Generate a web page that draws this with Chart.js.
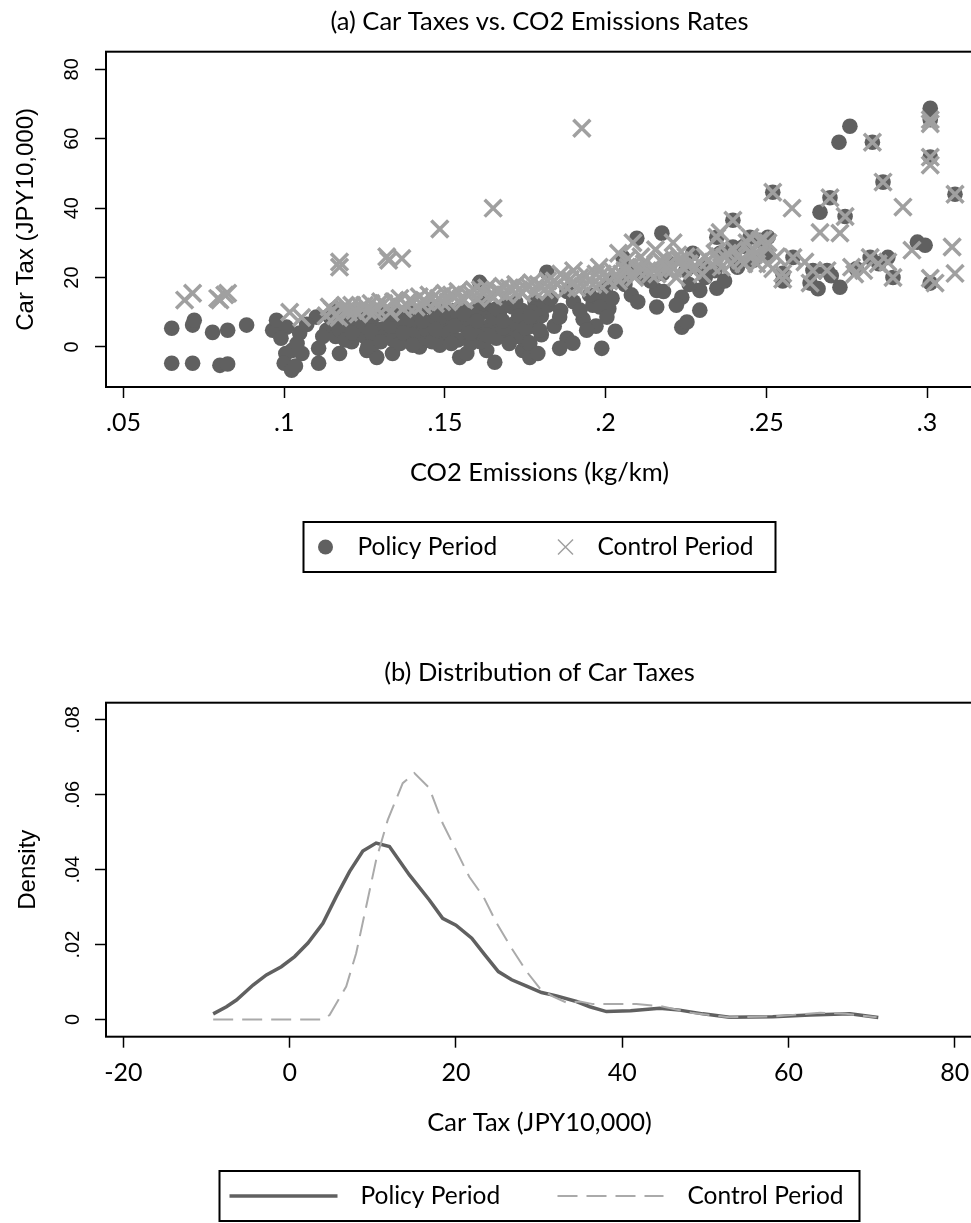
<!DOCTYPE html>
<html>
<head>
<meta charset="utf-8">
<script src="https://cdn.jsdelivr.net/npm/chart.js@4.4.1/dist/chart.umd.min.js"></script>
<style>
  html, body { margin: 0; padding: 0; background: #fff; overflow: hidden; width: 971px; height: 1223px; }
  canvas { position: absolute; left: 0; }
  #scatterChart { top: 0; }
  #densityChart { top: 610px; }
</style>
</head>
<body>
<canvas id="scatterChart" width="975" height="610"></canvas>
<canvas id="densityChart" width="975" height="613"></canvas>
<script>
// ---- panel (a): car tax vs CO2 emissions, [kg/km, JPY10,000] ----
const policyPoints = [
  [.065,5.4],[.0715,6.3],[.072,7.7],[.0777,4.2],[.0824,4.8],[.0883,6.3],[.065,-4.7],[.0715,-4.7],[.080,-5.3],[.0824,-4.9],
  [.0964,4.8],[.0976,7.7],[.1007,5.7],[.1048,4],[.110,8.6],[.1132,4.8],[.1005,-1.9],[.1024,-1],[.1055,-1.9],[.1107,-0.4],
  [.100,-4.7],[.1023,-6.7],[.1107,-4.7],[.099,2.5],[.104,1],[.107,6.5],[.112,3],[.1035,-5.5],
  [.1172,-1.9],[.1257,-1],[.1288,-3],[.1337,-1.9],[.1421,0],[.1484,0.5],[.1546,-3],[.1568,-1.9],[.163,-1],[.1655,-4.4],
  [.1742,-1],[.1764,-3],[.1462,4],[.1365,4],[.16,4.8],[.1608,18.6],
  [.116,3],[.118,6],[.12,8],[.121,1.5],[.123,5],[.125,3],[.127,7],[.128,1],[.13,5],[.132,8.5],[.134,2],[.135,6],[.137,9],
  [.139,3],[.14,6.5],[.142,9.5],[.143,2.5],[.145,7],[.147,10],[.149,3],[.15,6],[.152,8.5],[.154,2],[.155,11],[.157,5],
  [.159,8],[.161,1.5],[.162,10],[.164,6],[.166,2.5],[.167,9],[.169,12],[.17,4],[.172,7],[.174,10.5],[.175,2],[.177,6],
  [.178,13],[.18,9],
  [.115,7],[.117,5],[.119,2],[.122,9],[.124,6.5],[.126,0],[.129,9.5],[.131,3],[.133,6],[.136,1],[.138,7.5],[.14,3.5],
  [.141,10],[.144,5],[.146,1.5],[.148,8],[.151,4],[.153,10.5],[.156,7],[.158,1],[.16,11],[.163,3.5],[.165,8.5],
  [.168,5.5],[.171,11.5],[.173,3],[.176,8],[.179,11],
  [.114,9],[.116,11],[.119,8],[.121,4],[.124,10],[.127,4.5],[.13,1.5],[.131,10],[.134,9.5],[.137,4],[.139,11],
  [.14,0.5],[.143,7.5],[.145,11.5],[.147,5],[.15,10.5],[.152,1],[.153,6],[.156,9.5],[.158,4],[.16,7.5],[.162,12.5],
  [.164,3],[.166,11],[.168,7.5],[.17,1],[.172,13],[.173,9],[.175,5.5],[.177,10],[.18,3.5],[.182,12],[.184,6],
  [.186,10.5],[.188,2.5],[.19,13],[.193,8],[.196,12],[.197,6],[.199,14],[.201,11],[.203,4.5],
  [.1764,8.6],[.1795,4.8],[.1817,21.5],[.1857,8.6],[.192,10.6],[.1941,4.8],[.1982,11.5],[.2004,8.6],[.1764,1.1],
  [.1789,-1.9],[.1857,-0.4],[.1898,1.1],[.1988,-0.4],[.2097,31.3],[.2175,32.8],[.2054,25.8],[.2066,22],[.2159,16.3],
  [.2178,21.2],[.2237,14.3],[.2271,27],[.2293,16.3],[.2346,16.9],[.2159,11.5],[.2237,5.7],[.2253,7.2],[.2293,10.6],
  [.2356,27],[.2396,28.8],[.2346,31.6],[.2396,36.5],[.2449,31.6],[.248,30.7],[.2505,31.6],
  [.183,14],[.188,16],[.195,15],[.2,17],[.203,19],[.208,15],[.212,20],[.22,24],[.225,22],[.23,23],[.24,26],[.243,29],
  [.202,14],[.206,18],[.21,13],[.214,19],[.218,16],[.222,12],[.226,18],[.231,20],[.234,22],[.237,19],[.241,23],
  [.246,25],[.25,27],
  [.252,44.6],[.2667,38.8],[.276,63.6],[.2726,59],[.283,59],[.2863,47.5],[.2698,43],[.2745,37.6],[.301,68.8],
  [.301,65.5],[.301,54.7],[.3087,44],[.297,30.2],[.2994,29.3],[.301,18.4],[.2551,21.2],[.2551,19],[.2636,18.4],
  [.2645,22],[.2729,17.2],[.2894,20],[.2878,25.8],[.2823,25.8],[.2689,22],[.2583,25.8],[.2661,16.8],[.2702,20.5],
  [.278,22.5],[.285,24]
];
const controlPoints = [
  [.069,13.5],[.0715,15.5],[.0793,14],[.0815,15],[.0824,15.5],[.080,13.5],
  [.1017,10],[.1054,8.5],[.1172,24.5],[.1172,23],[.1319,26],[.1366,25.5],[.1325,25],[.1484,34],[.165,40],[.1926,63],
  [.113,9],[.115,10.5],[.117,8.5],[.118,11],[.12,10],[.121,12],[.123,9.5],[.124,11.5],[.126,10.5],[.127,12.5],
  [.129,11],[.13,13],[.132,11.5],[.133,10],[.135,12.5],[.136,14],[.138,12],[.139,13.5],[.141,11.5],[.142,14.5],
  [.144,13],[.145,15],[.147,12.5],[.148,14],[.15,15.5],[.151,13],[.153,14.5],[.154,16],[.156,13.5],[.157,15],
  [.159,16.5],[.16,14],[.162,15.5],[.163,17],[.165,14.5],[.166,16],[.168,17.5],[.169,15],[.171,16.5],[.172,18],
  [.174,15.5],[.175,17],[.177,18.5],[.178,16],[.18,17.5],[.182,19],[.183,16.5],[.185,18],[.187,20],[.188,17],
  [.19,18.5],[.192,20],[.193,17.5],[.195,19],[.197,21],[.198,18],[.2,20],[.202,22],[.204,19],[.205,21],[.207,23],
  [.209,20],[.21,22],[.212,24],[.214,21],[.215,23],[.217,25],[.219,22],[.22,24],[.222,20],[.224,23],[.225,26],
  [.227,22],[.229,24.5],[.23,21],[.232,25],[.234,27],[.236,23],[.237,26],[.239,24],[.24,28],[.242,25],[.244,30],
  [.245,27],[.247,24],[.249,31],[.25,29],[.2155,28],[.2185,25.5],[.2085,30],[.2225,26.5],
  [.204,27],[.207,25.5],[.221,30],[.211,26],[.198,23],[.19,22],[.186,21],
  [.114,11.5],[.116,9],[.119,12],[.122,10.5],[.125,12],[.128,10],[.131,12.5],[.134,13],[.137,11],[.14,13],
  [.143,12],[.146,14],[.149,13],[.152,15],[.155,14],[.158,15.5],[.161,16.5],[.164,15],[.167,16],[.17,17],
  [.173,16.5],[.176,17.5],[.179,18],[.181,16.5],[.184,19],[.189,19.5],[.191,17],[.194,20.5],[.196,18],[.199,21],
  [.201,19],[.203,20.5],[.206,22],[.208,21],[.211,23],[.213,22],[.216,21],[.218,24],[.221,22.5],[.223,25],
  [.226,24],[.228,23],[.231,26],[.233,23.5],[.235,25],[.238,27],[.241,26],[.243,24],[.246,28],[.248,26],
  [.2396,36.5],[.2346,31.6],[.2356,33],[.2449,31.6],[.248,30.7],[.2505,30],[.246,26.5],[.2505,24],[.252,22.5],
  [.252,44.6],[.258,40],[.2667,33],[.2729,32.8],[.283,59],[.2863,47.5],[.2698,43],[.2745,37.6],[.301,65.5],
  [.301,64.3],[.301,54.7],[.301,52.4],[.3087,44],[.2925,40.3],[.3078,28.8],[.3087,21.2],[.2953,27.9],[.301,19.8],
  [.3025,18.4],[.2551,21.2],[.2551,19.5],[.2636,18.4],[.2645,22],[.2583,25.8],[.2823,25.8],[.2878,24.5],[.2894,20],
  [.2689,22],[.2775,21],[.2848,24],[.2803,22],[.262,24.5],[.2532,26],[.2765,23]
];
const co2Ticks = [0.05, 0.1, 0.15, 0.2, 0.25, 0.3];
const co2TickLabels = ['.05', '.1', '.15', '.2', '.25', '.3'];
const taxTicks = [0, 20, 40, 60, 80];
const taxTickLabels = ['0', '20', '40', '60', '80'];

// ---- panel (b): kernel density of car tax ----
const policyTax = [-9.2,-7.6,-6.4,-4.4,-2.8,-1.0,0.6,2.2,4.0,5.6,7.2,8.8,10.4,12.0,14.4,16.8,18.4,20.0,21.9,23.5,
  25.1,26.7,28.5,30.3,32.1,34.5,36.1,38.1,41.0,44.5,46.9,49.7,52.9,58.1,62.6,67.4,70.8];
const policyDensity = [.0015,.0034,.0052,.0092,.0119,.0141,.0168,.0204,.0257,.0328,.0395,.0450,.0471,.0462,.0386,
  .0319,.0270,.0252,.0217,.0172,.0128,.0106,.0089,.0072,.0063,.0048,.0034,.0021,.0023,.0030,.0025,.0015,.0006,
  .0007,.0012,.0015,.0005];
const controlTax = [-9.2,4.0,4.8,6.8,8.0,9.2,10.4,11.8,13.6,15.0,16.8,18.4,20.0,21.6,23.3,24.9,26.7,28.5,30.1,31.7,
  33.3,34.9,36.5,41.7,44.5,48.5,52.9,58.1,63.8,66.9,70.6];
const controlDensity = [0,0,.0012,.0088,.0177,.0301,.0426,.0533,.0631,.0658,.0618,.0524,.0453,.0381,.0328,.0257,
  .0190,.0128,.0083,.0061,.0045,.0048,.0041,.0041,.0036,.0017,.0006,.0008,.0018,.0015,.0006];
const carTaxTicks = [-20, 0, 20, 40, 60, 80];
const carTaxTickLabels = ['-20', '0', '20', '40', '60', '80'];
const densityTicks = [0, 0.02, 0.04, 0.06, 0.08];
const densityTickLabels = ['0', '.02', '.04', '.06', '.08'];

const seriesLabels = ['Policy Period', 'Control Period'];

Chart.defaults.font.family = 'Lato, "Open Sans", sans-serif';
Chart.defaults.color = '#000';
Chart.defaults.animation = false;

const DARK = '#606060';
const LIGHT = '#a0a0a0';
const ROTATED_FONT = '"Liberation Sans", Arial, sans-serif';

// full box round the plot region, stata style
const plotFrame = {
  id: 'plotFrame',
  afterDatasetsDraw(chart) {
    const { ctx, chartArea: a } = chart;
    ctx.save();
    ctx.strokeStyle = '#000';
    ctx.lineWidth = 2;
    ctx.strokeRect(a.left, a.top, a.right - a.left, a.bottom - a.top);
    ctx.restore();
  }
};

// legend in a framed box under the x title
const boxedLegend = {
  id: 'boxedLegend',
  afterDraw(chart, args, opts) {
    const { ctx, chartArea: a } = chart;
    const left = (a.left + a.right) / 2 - opts.width / 2;
    const top = a.bottom + opts.offset;
    const midY = top + opts.height / 2;
    ctx.save();
    ctx.strokeStyle = '#000';
    ctx.lineWidth = 2;
    ctx.strokeRect(left, top, opts.width, opts.height);
    chart.data.datasets.forEach((ds, i) => {
      const it = opts.items[i];
      ctx.save();
      if (it.key === 'circle') {
        ctx.fillStyle = ds.backgroundColor;
        ctx.beginPath();
        ctx.arc(left + it.at, midY, 7.5, 0, Math.PI * 2);
        ctx.fill();
      } else if (it.key === 'cross') {
        const r = 7.5;
        ctx.strokeStyle = ds.borderColor;
        ctx.lineWidth = 1.5;
        ctx.beginPath();
        ctx.moveTo(left + it.at - r, midY - r); ctx.lineTo(left + it.at + r, midY + r);
        ctx.moveTo(left + it.at - r, midY + r); ctx.lineTo(left + it.at + r, midY - r);
        ctx.stroke();
      } else {
        ctx.strokeStyle = ds.borderColor;
        ctx.lineWidth = ds.borderWidth;
        ctx.setLineDash(ds.borderDash || []);
        ctx.beginPath();
        ctx.moveTo(left + it.at, midY);
        ctx.lineTo(left + it.to, midY);
        ctx.stroke();
      }
      ctx.restore();
      ctx.fillStyle = '#000';
      ctx.font = '24.5px Lato, "Open Sans", sans-serif';
      ctx.textBaseline = 'middle';
      ctx.textAlign = 'left';
      ctx.fillText(ds.label, left + it.text, midY);
    });
    ctx.restore();
  }
};

const tickGrid = { drawOnChartArea: false, drawTicks: true, tickLength: 11, tickColor: '#000', tickWidth: 1.5 };

function xAxis(min, max, ticks, labels, title, tickPad) {
  return {
    type: 'linear', min, max,
    afterBuildTicks: s => { s.ticks = ticks.map(v => ({ value: v })); },
    afterFit: s => { s.height = 110; s.paddingLeft = 0; s.paddingRight = 0; },
    border: { display: false },
    grid: tickGrid,
    ticks: { autoSkip: false, maxRotation: 0, padding: tickPad, font: { size: 25 },
      callback: (v, i) => labels[i] },
    title: { display: true, text: title, font: { size: 25.5 }, padding: { top: 0, bottom: 8.7 } }
  };
}

function yAxis(min, max, ticks, labels, title, tickPad, titlePad) {
  return {
    type: 'linear', min, max,
    afterBuildTicks: s => { s.ticks = ticks.map(v => ({ value: v })); },
    afterFit: s => { s.width = 106; s.paddingTop = 0; s.paddingBottom = 0; },
    border: { display: false },
    grid: tickGrid,
    ticks: { autoSkip: false, minRotation: 90, maxRotation: 90, crossAlign: 'center', padding: tickPad,
      font: { family: ROTATED_FONT, size: 20 }, callback: (v, i) => labels[i] },
    title: { display: true, text: title, font: { family: ROTATED_FONT, size: 24 },
      padding: { top: titlePad, bottom: 0 } }
  };
}

const scatterChart = new Chart(document.getElementById('scatterChart'), {
  type: 'scatter',
  data: {
    datasets: [
      {
        label: seriesLabels[0],
        data: policyPoints.map(p => ({ x: p[0], y: p[1] })),
        pointStyle: 'circle', pointRadius: 7.8, borderWidth: 0,
        backgroundColor: DARK, borderColor: DARK, order: 2
      },
      {
        label: seriesLabels[1],
        data: controlPoints.map(p => ({ x: p[0], y: p[1] })),
        pointStyle: 'crossRot', pointRadius: 12, borderWidth: 3.5,
        backgroundColor: LIGHT, borderColor: LIGHT, order: 1
      }
    ]
  },
  options: {
    responsive: false,
    events: [],
    layout: { autoPadding: false, padding: { left: 0, right: 2, top: 0, bottom: 113 } },
    scales: {
      x: xAxis(0.04455, 0.3143, co2Ticks, co2TickLabels, 'CO2 Emissions (kg/km)', 10),
      y: yAxis(-11.54, 85.08, taxTicks, taxTickLabels, 'Car Tax (JPY10,000)', 11.4, 11.6)
    },
    plugins: {
      legend: { display: false },
      tooltip: { enabled: false },
      title: { display: true, text: '(a) Car Taxes vs. CO2 Emissions Rates', fullSize: false,
        font: { size: 25.5, weight: 'normal' }, padding: { top: 6.4, bottom: 14.7 } },
      boxedLegend: { width: 472, height: 50, offset: 135,
        items: [{ key: 'circle', at: 22, text: 54 }, { key: 'cross', at: 262, text: 294 }] }
    }
  },
  plugins: [plotFrame, boxedLegend]
});

const densityChart = new Chart(document.getElementById('densityChart'), {
  type: 'scatter',
  data: {
    datasets: [
      {
        label: seriesLabels[0],
        data: policyTax.map((t, i) => ({ x: t, y: policyDensity[i] })),
        showLine: true, pointRadius: 0, borderColor: DARK, backgroundColor: DARK,
        borderWidth: 3.5, order: 2
      },
      {
        label: seriesLabels[1],
        data: controlTax.map((t, i) => ({ x: t, y: controlDensity[i] })),
        showLine: true, pointRadius: 0, borderColor: '#aaaaaa', backgroundColor: '#aaaaaa',
        borderWidth: 2, borderDash: [20, 9], order: 1
      }
    ]
  },
  options: {
    responsive: false,
    events: [],
    layout: { autoPadding: false, padding: { left: 0, right: 2, top: 0, bottom: 76.3 } },
    scales: {
      x: xAxis(-22.09, 82.19, carTaxTicks, carTaxTickLabels, 'Car Tax (JPY10,000)', 10.3),
      y: yAxis(-0.0046, 0.0846, densityTicks, densityTickLabels, 'Density', 7.6, 14)
    },
    plugins: {
      legend: { display: false },
      tooltip: { enabled: false },
      title: { display: true, text: '(b) Distribution of Car Taxes', fullSize: false,
        font: { size: 25.5, weight: 'normal' }, padding: { top: 47.4, bottom: 14.7 } },
      boxedLegend: { width: 640, height: 50, offset: 134.3,
        items: [{ key: 'solid', at: 10, to: 118, text: 141 }, { key: 'dash', at: 338, to: 444, text: 468 }] }
    }
  },
  plugins: [plotFrame, boxedLegend]
});
</script>
</body>
</html>
